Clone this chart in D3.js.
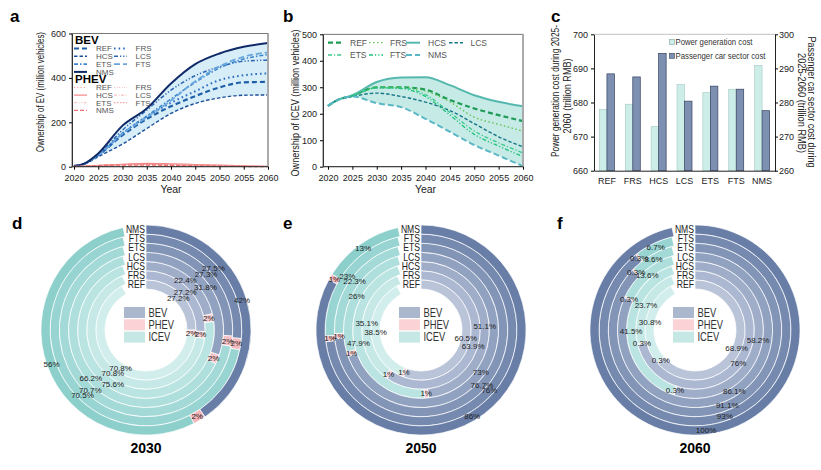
<!DOCTYPE html>
<html>
<head>
<meta charset="utf-8">
<script src="https://cdn.jsdelivr.net/npm/d3@7"></script>
<style>
body{margin:0;background:#fff;}
svg{font-family:Arial,"Liberation Sans",sans-serif;}
</style>
</head>
<body>
<div id="content"></div>
<script>
// ---- data ----
var years = [2020, 2022, 2025, 2030, 2035, 2040, 2045, 2050, 2055, 2060];
var yearTicks = [2020, 2025, 2030, 2035, 2040, 2045, 2050, 2055, 2060];
var scenarios = ["REF", "FRS", "HCS", "LCS", "ETS", "FTS", "NMS"];

// panel a, BEV and PHEV ownership (million vehicles)
var bevREF = [3, 12, 52, 142, 215, 272, 318, 357, 380, 382];
var bevFRS = [3, 12, 52, 150, 226, 288, 340, 390, 412, 420];
var bevHCS = [3, 11, 45, 102, 172, 240, 285, 310, 322, 323];
var bevLCS = [3, 12, 54, 165, 255, 345, 410, 450, 475, 480];
var bevETS = [3, 12, 52, 150, 228, 305, 380, 445, 485, 505];
var bevFTS = [3, 12, 52, 148, 222, 298, 385, 452, 495, 515];
var bevNMS = [3, 13, 60, 185, 262, 375, 462, 510, 540, 557];
var phevREF = [1, 2, 5, 9, 11, 10, 8, 6, 4, 2];
var phevFRS = [1, 2, 5, 9, 10, 9, 7, 5, 3, 1];
var phevHCS = [1, 2, 6, 11, 15, 13, 10, 7, 4, 2];
var phevLCS = [1, 2, 5, 8, 9, 8, 6, 4, 2, 1];
var phevETS = [1, 2, 5, 9, 10, 9, 7, 4, 2, 1];
var phevFTS = [1, 2, 5, 9, 10, 8, 6, 4, 2, 1];
var phevNMS = [1, 2, 5, 7, 7, 6, 4, 3, 1, 0];

// panel b, ICEV ownership (million vehicles)
var icevREF = [230, 252, 268, 300, 300, 291, 252, 220, 195, 172];
var icevFRS = [230, 252, 268, 300, 300, 286, 245, 187, 160, 134];
var icevHCS = [230, 252, 270, 320, 337, 338, 308, 270, 245, 228];
var icevLCS = [230, 252, 265, 278, 265, 244, 212, 163, 113, 75];
var icevETS = [230, 252, 268, 298, 298, 272, 205, 135, 90, 52];
var icevFTS = [230, 252, 268, 298, 295, 265, 195, 122, 78, 38];
var icevNMS = [230, 252, 265, 240, 225, 181, 132, 82, 42, 2];

// panel c, costs 2025-2060 (trillion RMB)
var powerCost = [678, 679.5, 673, 685.3, 682.9, 683.9, 690.9];
var carCost = [288.4, 287.5, 294.4, 280.4, 284.8, 283.9, 277.6];

// panels d-f, shares (%) per scenario ring, inner (REF) to outer (NMS)
var bev2030 = [27.2, 27.2, 22.4, 31.8, 27.3, 27.5, 42];
var phev2030 = [2, 2, 2, 2, 2, 2, 2];
var icev2030 = [70.8, 70.8, 75.6, 66.2, 70.7, 70.5, 56];
var bev2050 = [60.5, 63.9, 51.1, 73, 76.7, 76, 86];
var phev2050 = [1, 1, 1, 1, 1, 1, 1];
var icev2050 = [38.5, 35.1, 47.9, 26, 22.3, 23, 13];
var bev2060 = [68.9, 76, 58.2, 86.1, 91.1, 93, 100];
var phev2060 = [0.3, 0.3, 0.3, 0.3, 0.3, 0.3, 0];
var icev2060 = [30.8, 23.7, 41.5, 13.6, 8.6, 6.7, 0];

var svg = d3.select('#content').append('svg')
    .attr('width', 821).attr('height', 470);

function panelLetter(t, x, y) {
    svg.append('text').attr('x', x).attr('y', y)
        .style('font-weight', 'bold').style('font-size', '17px').text(t);
}
panelLetter('a', 10, 22);
panelLetter('b', 283, 22);
panelLetter('c', 551, 22);
panelLetter('d', 12, 229);
panelLetter('e', 283, 229);
panelLetter('f', 557, 229);

// rotated axis title squeezed to the length seen in the figure
function vLabel(g, txt, x, y, len, angle) {
    g.append('text')
        .attr('transform', 'translate(' + x + ',' + y + ') rotate(' + angle + ')')
        .attr('text-anchor', 'middle').style('font-size', '10.5px').attr('fill', '#222')
        .attr('textLength', len).attr('lengthAdjust', 'spacingAndGlyphs')
        .text(txt);
}

// ---------- line panels ----------
function drawLines(cfg) {
    var g = svg.append('g');
    var x = d3.scaleLinear().domain([2020, 2060]).range([cfg.x0, cfg.x1]);
    var y = d3.scaleLinear().domain([0, cfg.yMax]).range([cfg.bottom, cfg.top]);

    var area = d3.area()
        .x(function(d, i) { return x(years[i]); })
        .y0(function(d) { return y(d[0]); })
        .y1(function(d) { return y(d[1]); })
        .curve(d3.curveMonotoneX);
    g.append('path').datum(d3.zip(cfg.bandLo, cfg.bandHi))
        .attr('d', area).attr('fill', cfg.bandFill);

    var line = d3.line()
        .x(function(d, i) { return x(years[i]); })
        .y(function(d) { return y(d); })
        .curve(d3.curveMonotoneX);

    cfg.series.forEach(function(s) {
        g.append('path').datum(s.values)
            .attr('d', line)
            .attr('fill', 'none')
            .attr('stroke', s.color)
            .attr('stroke-width', s.width)
            .attr('stroke-dasharray', s.dash);
    });

    // frame
    g.append('rect').attr('x', cfg.frameLeft).attr('y', cfg.top)
        .attr('width', cfg.x1 - cfg.frameLeft).attr('height', cfg.bottom - cfg.top)
        .attr('fill', 'none').attr('stroke', '#555').attr('stroke-width', 0.8);
    g.append('line').attr('x1', cfg.x1).attr('x2', cfg.x1)
        .attr('y1', cfg.top).attr('y2', cfg.bottom)
        .attr('stroke', '#aaa').attr('stroke-width', 2);

    var xAxis = g.append('g').attr('transform', 'translate(0,' + cfg.bottom + ')')
        .call(d3.axisBottom(x).tickValues(yearTicks).tickFormat(d3.format('d')).tickSize(3).tickSizeOuter(0));
    xAxis.select('.domain').attr('d', 'M' + cfg.frameLeft + ',0H' + cfg.x1).attr('stroke', '#333');
    xAxis.selectAll('text').style('font-size', '9px').attr('fill', '#222').attr('dy', '0.9em');

    var yAxis = g.append('g').attr('transform', 'translate(' + cfg.frameLeft + ',0)')
        .call(d3.axisLeft(y).tickValues(cfg.yTicks).tickSize(3).tickSizeOuter(0));
    yAxis.select('.domain').attr('stroke', '#333');
    yAxis.selectAll('text').style('font-size', '9px').attr('fill', '#222');

    g.append('text').attr('x', (cfg.x0 + cfg.x1) / 2).attr('y', 193)
        .attr('text-anchor', 'middle').style('font-size', '10.5px').attr('fill', '#222').text('Year');
    vLabel(g, cfg.yLabel, cfg.yLabelX, cfg.yLabelY, cfg.yLabelLen, -90);
    return g;
}

function legendItem(g, s, x, y, len, tx) {
    g.append('line').attr('x1', x).attr('x2', x + len).attr('y1', y).attr('y2', y)
        .attr('stroke', s.color).attr('stroke-width', s.width).attr('stroke-dasharray', s.dash);
    g.append('text').attr('x', tx).attr('y', y).attr('dy', '0.35em')
        .style('font-size', '8px').attr('fill', '#555').text(s.name);
}

// panel a
var bevSeries = [
    {name: 'REF', values: bevREF, color: '#1f5ea8', dash: '5,3', width: 2.2},
    {name: 'FRS', values: bevFRS, color: '#2c6cc0', dash: '1.6,3', width: 2},
    {name: 'HCS', values: bevHCS, color: '#1b4f9c', dash: '3.5,2', width: 1.4},
    {name: 'LCS', values: bevLCS, color: '#2a64b2', dash: '4,2,1.2,2,1.2,2', width: 1.5},
    {name: 'ETS', values: bevETS, color: '#3e86cc', dash: '4,2,1.5,2', width: 1.6},
    {name: 'FTS', values: bevFTS, color: '#6aa6dc', dash: '6,3', width: 1.8},
    {name: 'NMS', values: bevNMS, color: '#0f2a68', dash: null, width: 2}
];
var phevSeries = [
    {name: 'REF', values: phevREF, color: '#f5a3a3', dash: '1.2,2', width: 1},
    {name: 'FRS', values: phevFRS, color: '#f6b8b8', dash: '1,1.5', width: 0.9},
    {name: 'HCS', values: phevHCS, color: '#f48585', dash: null, width: 1.2},
    {name: 'LCS', values: phevLCS, color: '#f5a8a8', dash: '3,1.5,1,1.5', width: 0.9},
    {name: 'ETS', values: phevETS, color: '#f5b0b0', dash: '3,1.5,1,1.5,1,1.5', width: 0.9},
    {name: 'FTS', values: phevFTS, color: '#f29090', dash: '1.5,1.5', width: 1},
    {name: 'NMS', values: phevNMS, color: '#f07070', dash: '4,2', width: 1.3}
];
var ga = drawLines({
    x0: 74, x1: 268, frameLeft: 72, top: 33.5, bottom: 166.7, yMax: 600,
    yTicks: [0, 200, 400, 600], bandLo: bevHCS, bandHi: bevNMS, bandFill: '#d7eef8',
    series: bevSeries.concat(phevSeries),
    yLabelX: 43.5, yLabelY: 92, yLabelLen: 120,
    yLabel: 'Ownership of EV (million vehicles)'
});
ga.append('text').attr('x', 75).attr('y', 44).style('font-weight', 'bold')
    .style('font-size', '11.5px').text('BEV');
ga.append('text').attr('x', 75).attr('y', 83).style('font-weight', 'bold')
    .style('font-size', '11.5px').text('PHEV');
var legRows = [[0, 1], [2, 3], [4, 5], [6]];
legRows.forEach(function(r, k) {
    legendItem(ga, bevSeries[r[0]], 74, 48.5 + k * 7.8, 13, 96);
    if (r.length > 1) legendItem(ga, bevSeries[r[1]], 114, 48.5 + k * 7.8, 13, 135.5);
    legendItem(ga, phevSeries[r[0]], 74, 87.5 + k * 7.6, 13, 96);
    if (r.length > 1) legendItem(ga, phevSeries[r[1]], 114, 87.5 + k * 7.6, 13, 135.5);
});

// panel b
var icevSeries = [
    {name: 'REF', values: icevREF, color: '#1e9b57', dash: '5,3', width: 2.2},
    {name: 'FRS', values: icevFRS, color: '#5cc24a', dash: '1.5,2.5', width: 1.3},
    {name: 'HCS', values: icevHCS, color: '#55b8af', dash: null, width: 2},
    {name: 'LCS', values: icevLCS, color: '#17778a', dash: '3.5,2', width: 1.4},
    {name: 'ETS', values: icevETS, color: '#3bc98c', dash: '4,2,1.2,2', width: 1.3},
    {name: 'FTS', values: icevFTS, color: '#20c27a', dash: '4,2,1.2,2,1.2,2', width: 1.3},
    {name: 'NMS', values: icevNMS, color: '#5ab7c6', dash: '6,3', width: 2}
];
var gb = drawLines({
    x0: 328, x1: 523, frameLeft: 323, top: 34.3, bottom: 166.7, yMax: 500,
    yTicks: [0, 100, 200, 300, 400, 500], bandLo: icevNMS, bandHi: icevHCS, bandFill: '#c6eae5',
    series: icevSeries,
    yLabelX: 298.5, yLabelY: 103, yLabelLen: 147,
    yLabel: 'Ownership of ICEV (million vehicles)'
});
var bLeg = [[0, 328, 42.7], [1, 369, 42.7], [2, 406, 42.7], [3, 449, 42.7],
            [4, 328, 55], [5, 369, 55], [6, 406, 55]];
var bText = [350, 390, 428, 470.5];
bLeg.forEach(function(p, k) {
    var s = icevSeries[p[0]];
    gb.append('line').attr('x1', p[1]).attr('x2', p[1] + 14).attr('y1', p[2]).attr('y2', p[2])
        .attr('stroke', s.color).attr('stroke-width', s.width).attr('stroke-dasharray', s.dash);
    gb.append('text').attr('x', bText[k % 4]).attr('y', p[2]).attr('dy', '0.35em')
        .style('font-size', '8.5px').attr('fill', '#555').text(s.name);
});

// ---------- panel c bars ----------
(function() {
    var g = svg.append('g');
    var left = 594, right = 775, top = 34.3, bottom = 170.7;
    var x = d3.scaleBand().domain(scenarios).range([left, right]).paddingInner(0.42).paddingOuter(0.21);
    var xi = d3.scaleBand().domain([0, 1]).range([0, x.bandwidth()]);
    var yL = d3.scaleLinear().domain([660, 700]).range([bottom, top]);
    var yR = d3.scaleLinear().domain([260, 300]).range([bottom, top]);

    g.selectAll('rect.pow').data(powerCost).enter().append('rect')
        .attr('x', function(d, i) { return x(scenarios[i]) + xi(0); })
        .attr('y', function(d) { return yL(d); })
        .attr('width', xi.bandwidth())
        .attr('height', function(d) { return bottom - yL(d); })
        .attr('fill', '#cdeee8').attr('stroke', '#a7c9c3').attr('stroke-width', 0.6);
    g.selectAll('rect.car').data(carCost).enter().append('rect')
        .attr('x', function(d, i) { return x(scenarios[i]) + xi(1); })
        .attr('y', function(d) { return yR(d); })
        .attr('width', xi.bandwidth())
        .attr('height', function(d) { return bottom - yR(d); })
        .attr('fill', '#7d90b2').attr('stroke', '#34425f').attr('stroke-width', 0.7);

    g.append('line').attr('x1', left).attr('x2', right).attr('y1', top).attr('y2', top)
        .attr('stroke', '#999').attr('stroke-width', 0.6);
    var ax = g.append('g').attr('transform', 'translate(0,' + bottom + ')')
        .call(d3.axisBottom(x).tickSize(0));
    ax.select('.domain').attr('stroke', '#222');
    ax.selectAll('text').style('font-size', '9px').attr('fill', '#222').attr('dy', '1.1em');
    var al = g.append('g').attr('transform', 'translate(' + left + ',0)')
        .call(d3.axisLeft(yL).ticks(4).tickSize(3).tickSizeOuter(0));
    al.select('.domain').attr('stroke', '#222');
    al.selectAll('text').style('font-size', '9px').attr('fill', '#222');
    var ar = g.append('g').attr('transform', 'translate(' + right + ',0)')
        .call(d3.axisRight(yR).ticks(4).tickSize(3).tickPadding(1).tickSizeOuter(0));
    ar.select('.domain').attr('stroke', '#222');
    ar.selectAll('text').style('font-size', '9px').attr('fill', '#222');

    vLabel(g, 'Power generation cost during 2025-', 558.5, 91, 132, -90);
    vLabel(g, '2060 (trillion RMB)', 570.5, 96, 75, -90);
    vLabel(g, 'Passenger car sector cost during', 808, 102, 131, 90);
    vLabel(g, '2025-2060 (trillion RMB)', 798, 103, 100, 90);

    var leg = [['Power generation cost', '#cdeee8', '#7fa7a1', 42.3, 77],
               ['Passenger car sector cost', '#7d90b2', '#34425f', 56, 90]];
    leg.forEach(function(l) {
        g.append('rect').attr('x', 669.5).attr('y', l[3] - 2.7).attr('width', 5).attr('height', 5)
            .attr('fill', l[1]).attr('stroke', l[2]).attr('stroke-width', 0.6);
        g.append('text').attr('x', 675.5).attr('y', l[3]).attr('dy', '0.35em')
            .style('font-size', '9px').attr('fill', '#333')
            .attr('textLength', l[4]).attr('lengthAdjust', 'spacingAndGlyphs').text(l[0]);
    });
})();

// ---------- donuts ----------
var bevColor = d3.interpolateRgb('#bac4d9', '#687ea6');
var phevColor = d3.interpolateRgb('#fbd6d9', '#f3b4ba');
var icevColor = d3.interpolateRgb('#d1eeec', '#8ccfcb');

function drawDonut(cx, cy, bev, phev, icev, title) {
    var g = svg.append('g').attr('transform', 'translate(' + cx + ',' + cy + ')');
    var r0 = 41, w = 9.15;
    var arc = d3.arc();
    function segments(i) {
        var ri = r0 + i * w, ro = ri + w, rm = (ri + ro) / 2;
        var span = 2 * Math.PI - Math.asin(22 / rm);
        var vals = [bev[i], phev[i], icev[i]];
        var tot = d3.sum(vals);
        var a = 0, out = [];
        vals.forEach(function(v, k) {
            var seg = {k: k, v: v, innerRadius: ri, outerRadius: ro, startAngle: a, endAngle: a + span * v / tot};
            a = seg.endAngle;
            if (v > 0) out.push(seg);
        });
        return out;
    }
    scenarios.forEach(function(name, i) {
        var cols = [bevColor(i / 6), phevColor(i / 6), icevColor(i / 6)];
        segments(i).forEach(function(seg) {
            g.append('path').attr('d', arc(seg))
                .attr('fill', cols[seg.k]).attr('stroke', '#fff').attr('stroke-width', 0.7);
        });
    });
    // value labels on top of all rings
    scenarios.forEach(function(name, i) {
        segments(i).forEach(function(seg) {
            var c = arc.centroid(seg);
            g.append('text').attr('x', c[0]).attr('y', c[1]).attr('dy', '0.35em')
                .attr('text-anchor', 'middle').style('font-size', '8px').attr('fill', '#222')
                .text(seg.v + '%');
        });
        var rm = r0 + i * w + w / 2;
        g.append('text').attr('transform', 'translate(-1,' + (-rm) + ') scale(0.86,1)')
            .attr('dy', '0.36em').attr('text-anchor', 'end')
            .style('font-size', '10px').attr('fill', '#222').text(name);
    });
    var leg = [['BEV', '#abb7cd'], ['PHEV', '#fbd2d5'], ['ICEV', '#c5e8e5']];
    leg.forEach(function(l, k) {
        g.append('rect').attr('x', -22).attr('y', -23 + k * 12.3).attr('width', 21).attr('height', 11)
            .attr('fill', l[1]);
        g.append('text').attr('transform', 'translate(2.5,' + (-17.5 + k * 12.3) + ') scale(0.78,1)')
            .attr('dy', '0.36em')
            .style('font-size', '12px').attr('fill', '#333').text(l[0]);
    });
    svg.append('text').attr('x', cx).attr('y', 453).attr('text-anchor', 'middle')
        .style('font-weight', 'bold').style('font-size', '14px').text(title);
}
drawDonut(146, 330, bev2030, phev2030, icev2030, '2030');
drawDonut(421, 330, bev2050, phev2050, icev2050, '2050');
drawDonut(695, 330, bev2060, phev2060, icev2060, '2060');
</script>
</body>
</html>
